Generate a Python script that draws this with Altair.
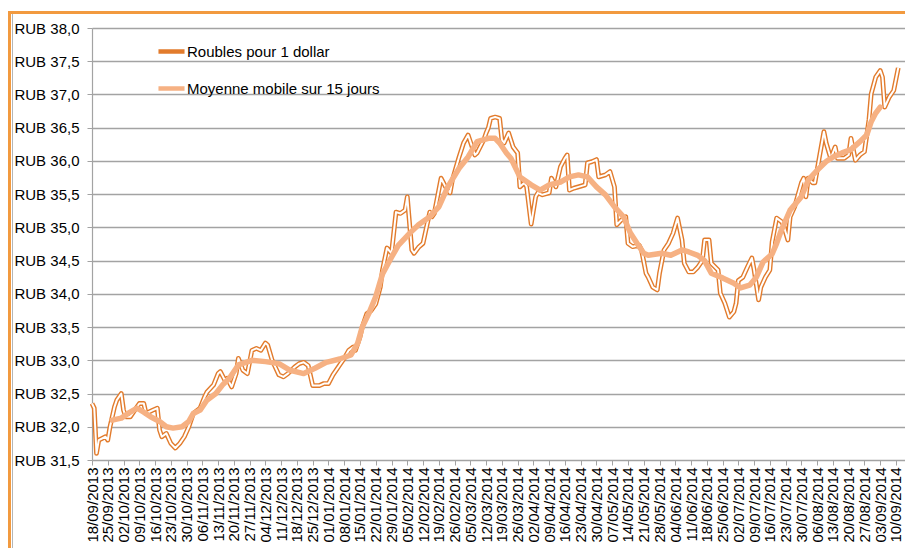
import altair as alt
import pandas as pd

# ---------------- data ----------------
tick_labels = [
    "18/09/2013", "25/09/2013", "02/10/2013", "09/10/2013", "16/10/2013", "23/10/2013",
    "30/10/2013", "06/11/2013", "13/11/2013", "20/11/2013", "27/11/2013", "04/12/2013",
    "11/12/2013", "18/12/2013", "25/12/2013", "01/01/2014", "08/01/2014", "15/01/2014",
    "22/01/2014", "29/01/2014", "05/02/2014", "12/02/2014", "19/02/2014", "26/02/2014",
    "05/03/2014", "12/03/2014", "19/03/2014", "26/03/2014", "02/04/2014", "09/04/2014",
    "16/04/2014", "23/04/2014", "30/04/2014", "07/05/2014", "14/05/2014", "21/05/2014",
    "28/05/2014", "04/06/2014", "11/06/2014", "18/06/2014", "25/06/2014", "02/07/2014",
    "09/07/2014", "16/07/2014", "23/07/2014", "30/07/2014", "06/08/2014", "13/08/2014",
    "20/08/2014", "27/08/2014", "03/09/2014", "10/09/2014",
]

y_ticks = [31.5, 32.0, 32.5, 33.0, 33.5, 34.0, 34.5, 35.0, 35.5, 36.0, 36.5, 37.0, 37.5, 38.0]

raw_dates = [
    "2013-09-18", "2013-09-19", "2013-09-20", "2013-09-21", "2013-09-24", "2013-09-25",
    "2013-09-26", "2013-09-28", "2013-09-29", "2013-10-01", "2013-10-02", "2013-10-03",
    "2013-10-05", "2013-10-07", "2013-10-09", "2013-10-11", "2013-10-12", "2013-10-15",
    "2013-10-17", "2013-10-18", "2013-10-19", "2013-10-21", "2013-10-23", "2013-10-25",
    "2013-10-27", "2013-10-29", "2013-10-31", "2013-11-02", "2013-11-05", "2013-11-07",
    "2013-11-08", "2013-11-11", "2013-11-13", "2013-11-14", "2013-11-16", "2013-11-17",
    "2013-11-19", "2013-11-21", "2013-11-22", "2013-11-24", "2013-11-26", "2013-11-28",
    "2013-11-30", "2013-12-02", "2013-12-04", "2013-12-05", "2013-12-07", "2013-12-10",
    "2013-12-12", "2013-12-14", "2013-12-17", "2013-12-19", "2013-12-21", "2013-12-23",
    "2013-12-25", "2013-12-28", "2013-12-30", "2014-01-01", "2014-01-03", "2014-01-06",
    "2014-01-08", "2014-01-10", "2014-01-12", "2014-01-13", "2014-01-15", "2014-01-16",
    "2014-01-18", "2014-01-20", "2014-01-22", "2014-01-24", "2014-01-25", "2014-01-27",
    "2014-01-29", "2014-01-31", "2014-02-02", "2014-02-04", "2014-02-05", "2014-02-07",
    "2014-02-08", "2014-02-10", "2014-02-12", "2014-02-15", "2014-02-16", "2014-02-17",
    "2014-02-20", "2014-02-22", "2014-02-24", "2014-02-25", "2014-02-28", "2014-03-02",
    "2014-03-04", "2014-03-05", "2014-03-07", "2014-03-08", "2014-03-11", "2014-03-12",
    "2014-03-13", "2014-03-14", "2014-03-16", "2014-03-18", "2014-03-19", "2014-03-20",
    "2014-03-22", "2014-03-24", "2014-03-26", "2014-03-27", "2014-03-29", "2014-03-30",
    "2014-04-01", "2014-04-03", "2014-04-04", "2014-04-06", "2014-04-09", "2014-04-10",
    "2014-04-12", "2014-04-14", "2014-04-16", "2014-04-17", "2014-04-18", "2014-04-20",
    "2014-04-22", "2014-04-25", "2014-04-26", "2014-04-28", "2014-04-30", "2014-05-01",
    "2014-05-04", "2014-05-06", "2014-05-08", "2014-05-09", "2014-05-11", "2014-05-13",
    "2014-05-14", "2014-05-16", "2014-05-19", "2014-05-20", "2014-05-22", "2014-05-23",
    "2014-05-25", "2014-05-27", "2014-05-28", "2014-05-30", "2014-06-01", "2014-06-03",
    "2014-06-05", "2014-06-07", "2014-06-08", "2014-06-10", "2014-06-12", "2014-06-14",
    "2014-06-16", "2014-06-17", "2014-06-19", "2014-06-20", "2014-06-23", "2014-06-24",
    "2014-06-26", "2014-06-28", "2014-06-30", "2014-07-01", "2014-07-02", "2014-07-04",
    "2014-07-06", "2014-07-08", "2014-07-09", "2014-07-11", "2014-07-12", "2014-07-14",
    "2014-07-16", "2014-07-17", "2014-07-19", "2014-07-21", "2014-07-22", "2014-07-24",
    "2014-07-25", "2014-07-27", "2014-07-30", "2014-07-31", "2014-08-01", "2014-08-02",
    "2014-08-04", "2014-08-05", "2014-08-07", "2014-08-09", "2014-08-10", "2014-08-12",
    "2014-08-14", "2014-08-15", "2014-08-18", "2014-08-20", "2014-08-21", "2014-08-23",
    "2014-08-25", "2014-08-27", "2014-08-29", "2014-08-30", "2014-09-01", "2014-09-03",
    "2014-09-04", "2014-09-05", "2014-09-07", "2014-09-09", "2014-09-11",
]

raw_values = [
    32.35, 32.28, 31.60, 31.80, 31.85, 31.80,
    32.00, 32.30, 32.40, 32.50, 32.25, 32.15,
    32.15, 32.25, 32.35, 32.35, 32.20, 32.25,
    32.28, 31.95, 31.85, 31.90, 31.75, 31.68,
    31.75, 31.85, 32.00, 32.20, 32.28, 32.45,
    32.52, 32.63, 32.80, 32.83, 32.70, 32.73,
    32.60, 32.80, 33.03, 32.85, 32.80, 33.15,
    33.18, 33.15, 33.26, 33.23, 33.00, 32.78,
    32.75, 32.80, 32.90, 32.95, 32.97, 32.92,
    32.62, 32.62, 32.65, 32.65, 32.78, 32.93,
    33.03, 33.15, 33.20, 33.15, 33.35, 33.50,
    33.70, 33.75, 33.85, 34.10, 34.36, 34.69,
    34.61, 35.23, 35.21, 35.26, 35.46, 34.66,
    34.61, 34.70, 34.76, 35.23, 35.16, 35.21,
    35.74, 35.61, 35.52, 35.71, 36.06, 36.27,
    36.39, 36.29, 36.09, 36.12, 36.32, 36.42,
    36.50, 36.64, 36.66, 36.64, 36.32, 36.27,
    36.42, 36.21, 36.12, 35.61, 35.67, 35.61,
    35.05, 35.46, 35.52, 35.49, 35.52, 35.74,
    35.61, 35.91, 36.04, 36.09, 35.56, 35.59,
    35.61, 35.64, 35.97, 35.99, 36.02, 35.76,
    35.79, 35.84, 35.61, 35.04, 35.11, 35.16,
    34.76, 34.71, 34.73, 34.66, 34.31, 34.25,
    34.10, 34.06, 34.31, 34.66, 34.76, 34.91,
    35.14, 34.81, 34.46, 34.33, 34.33, 34.40,
    34.50, 34.81, 34.81, 34.46, 34.36, 34.01,
    33.86, 33.65, 33.73, 33.86, 34.20, 34.25,
    34.40, 34.54, 34.36, 33.91, 34.10, 34.25,
    34.36, 34.78, 35.14, 35.09, 35.04, 34.81,
    35.16, 35.31, 35.67, 35.74, 35.46, 35.74,
    35.67, 35.67, 36.06, 36.44, 36.27, 36.04,
    36.21, 36.04, 36.04, 36.09, 36.34, 36.01,
    36.09, 36.14, 36.62, 37.01, 37.26, 37.36,
    37.26, 36.81, 36.96, 37.06, 37.40,
]

ma_dates = [
    "2013-09-27", "2013-10-01", "2013-10-04", "2013-10-08", "2013-10-11", "2013-10-14",
    "2013-10-18", "2013-10-21", "2013-10-24", "2013-10-28", "2013-10-31", "2013-11-02",
    "2013-11-05", "2013-11-08", "2013-11-12", "2013-11-15", "2013-11-18", "2013-11-22",
    "2013-11-28", "2013-12-04", "2013-12-10", "2013-12-15", "2013-12-21", "2013-12-26",
    "2013-12-31", "2014-01-06", "2014-01-11", "2014-01-14", "2014-01-16", "2014-01-19",
    "2014-01-22", "2014-01-25", "2014-01-29", "2014-02-01", "2014-02-06", "2014-02-10",
    "2014-02-15", "2014-02-19", "2014-02-23", "2014-02-28", "2014-03-04", "2014-03-08",
    "2014-03-13", "2014-03-16", "2014-03-18", "2014-03-21", "2014-03-23", "2014-03-27",
    "2014-04-01", "2014-04-05", "2014-04-09", "2014-04-14", "2014-04-18", "2014-04-22",
    "2014-04-26", "2014-04-30", "2014-05-04", "2014-05-08", "2014-05-12", "2014-05-15",
    "2014-05-19", "2014-05-21", "2014-05-23", "2014-05-29", "2014-06-02", "2014-06-07",
    "2014-06-10", "2014-06-14", "2014-06-17", "2014-06-20", "2014-06-25", "2014-06-30",
    "2014-07-03", "2014-07-07", "2014-07-10", "2014-07-13", "2014-07-17", "2014-07-19",
    "2014-07-21", "2014-07-25", "2014-07-30", "2014-08-02", "2014-08-06", "2014-08-10",
    "2014-08-13", "2014-08-17", "2014-08-21", "2014-08-25", "2014-08-28", "2014-08-30",
    "2014-09-01", "2014-09-03",
]

ma_values = [
    32.10, 32.13, 32.20, 32.28, 32.22, 32.15,
    32.08, 32.00, 31.98, 32.00, 32.08, 32.20,
    32.25, 32.40, 32.50, 32.63, 32.73, 32.93,
    33.00, 32.98, 32.95, 32.85, 32.80, 32.88,
    32.97, 33.02, 33.08, 33.26, 33.50, 33.71,
    33.96, 34.30, 34.55, 34.73, 34.91, 35.04,
    35.16, 35.31, 35.61, 35.89, 36.06, 36.29,
    36.34, 36.34, 36.27, 36.12, 36.04, 35.76,
    35.64, 35.56, 35.64, 35.68, 35.76, 35.79,
    35.76, 35.61, 35.49, 35.31, 35.16, 34.92,
    34.71, 34.61, 34.58, 34.61, 34.58, 34.66,
    34.63, 34.58, 34.50, 34.31, 34.24, 34.16,
    34.09, 34.13, 34.25, 34.48, 34.60, 34.76,
    34.95, 35.26, 35.46, 35.71, 35.86, 35.99,
    36.06, 36.12, 36.17, 36.29, 36.39, 36.59,
    36.72, 36.81,
]

SERIES_RAW = "Roubles pour 1 dollar"
SERIES_MA = "Moyenne mobile sur 15 jours"

# ---------------- styling ----------------
ORANGE = "#E27B2C"
PEACH = "#F6B183"
FRAME = "#F29A3F"
GRID = "#a3a3a3"
FONT = "Liberation Sans"

PLOT_W = 813
PLOT_H = 432

raw_df = pd.DataFrame({"date": raw_dates, "value": raw_values, "series": SERIES_RAW})
ma_df = pd.DataFrame({"date": ma_dates, "value": ma_values, "series": SERIES_MA})
one = pd.DataFrame({"k": [0]})


def to_dt(s):
    d, m, y = s.split("/")
    return alt.DateTime(year=int(y), month=int(m), date=int(d), utc=True)


tick_values = [to_dt(s) for s in tick_labels]

x_enc = alt.X(
    "date:T",
    title=None,
    scale=alt.Scale(
        type="utc",
        domain=[alt.DateTime(year=2013, month=9, date=18, utc=True),
                alt.DateTime(year=2014, month=9, date=14, utc=True)],
    ),
    axis=alt.Axis(
        values=tick_values,
        labelExpr="utcFormat(datum.value, '%d/%m/%Y')",
        labelAngle=270,
        labelAlign="right",
        labelBaseline="middle",
        labelOverlap=False,
        labelBound=False,
        labelFlush=False,
        grid=False,
        tickSize=5,
        tickColor=GRID,
        domainColor=GRID,
        labelPadding=2,
        labelFont=FONT,
        labelFontSize=15,
        labelColor="#000000",
    ),
)

y_enc = alt.Y(
    "value:Q",
    title=None,
    scale=alt.Scale(domain=[31.5, 38.0], nice=False, zero=False),
    axis=alt.Axis(
        values=y_ticks,
        labelExpr="'RUB ' + replace(format(datum.value, '.1f'), '.', ',')",
        grid=True,
        gridColor=GRID,
        gridWidth=1.4,
        tickSize=5,
        tickColor=GRID,
        domainColor=GRID,
        domainWidth=1.2,
        labelPadding=8,
        labelFont=FONT,
        labelFontSize=15,
        labelColor="#000000",
    ),
)

color_enc = alt.Color(
    "series:N",
    scale=alt.Scale(domain=[SERIES_RAW, SERIES_MA], range=[ORANGE, PEACH]),
    legend=alt.Legend(
        title=None,
        orient="none",
        legendX=64,
        legendY=8,
        symbolType="stroke",
        symbolSize=680,
        symbolStrokeWidth=4.5,
        labelFont=FONT,
        labelFontSize=15,
        labelColor="#000000",
        labelOffset=0,
        labelLimit=0,
        rowPadding=12,
    ),
)

raw_outer = alt.Chart(raw_df).mark_line(strokeWidth=4.8, strokeJoin="round").encode(
    x=x_enc, y=y_enc, color=color_enc
)
raw_inner = alt.Chart(raw_df).mark_line(strokeWidth=2.0, strokeJoin="round", color="white").encode(
    x=x_enc, y=y_enc
)
ma_line = alt.Chart(ma_df).mark_line(strokeWidth=5.5, strokeJoin="round", strokeCap="round").encode(
    x=x_enc, y=y_enc, color=color_enc
)

frame_top = alt.Chart(one).mark_rule(color=FRAME, strokeWidth=3).encode(
    x=alt.value(-83), x2=alt.value(PLOT_W + 10), y=alt.value(-15.5)
)
frame_left = alt.Chart(one).mark_rule(color=FRAME, strokeWidth=3).encode(
    x=alt.value(-82.5), y=alt.value(-17), y2=alt.value(PLOT_H + 100)
)
frame_inner = alt.Chart(one).mark_rule(color="#b5b5b5", strokeWidth=1).encode(
    x=alt.value(-79.5), y=alt.value(-14), y2=alt.value(PLOT_H + 100)
)

chart = (
    alt.layer(raw_outer, raw_inner, ma_line, frame_top, frame_left, frame_inner)
    .properties(
        width=PLOT_W,
        height=PLOT_H,
        padding={"left": 84, "top": 20, "right": 0, "bottom": 88},
        autosize=alt.AutoSizeParams(type="none"),
        background="white",
    )
    .configure_view(stroke=None)
)

chart.save("out.html", embed_options={"renderer": "svg", "actions": False})
